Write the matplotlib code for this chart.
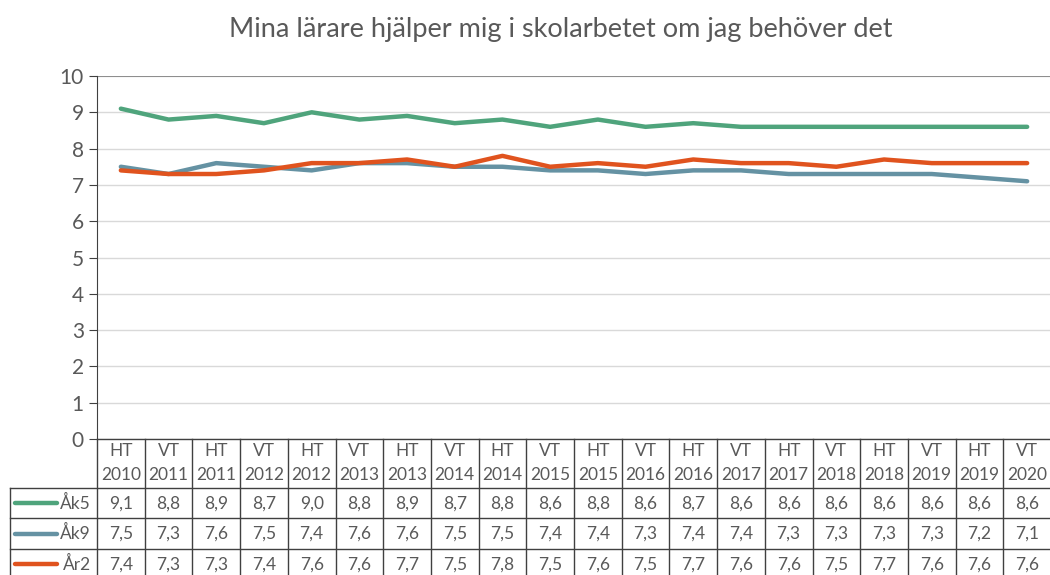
import numpy as np
import matplotlib.pyplot as plt

plt.rcParams['font.family'] = ['Lato', 'DejaVu Sans']

title = "Mina lärare hjälper mig i skolarbetet om jag behöver det"
terms = ["HT", "VT", "HT", "VT", "HT", "VT", "HT", "VT", "HT", "VT",
         "HT", "VT", "HT", "VT", "HT", "VT", "HT", "VT", "HT", "VT"]
years = ["2010", "2011", "2011", "2012", "2012", "2013", "2013", "2014", "2014", "2015",
         "2015", "2016", "2016", "2017", "2017", "2018", "2018", "2019", "2019", "2020"]
series_names = ["Åk5", "Åk9", "År2"]
ak5 = [9.1, 8.8, 8.9, 8.7, 9.0, 8.8, 8.9, 8.7, 8.8, 8.6, 8.8, 8.6, 8.7, 8.6, 8.6, 8.6, 8.6, 8.6, 8.6, 8.6]
ak9 = [7.5, 7.3, 7.6, 7.5, 7.4, 7.6, 7.6, 7.5, 7.5, 7.4, 7.4, 7.3, 7.4, 7.4, 7.3, 7.3, 7.3, 7.3, 7.2, 7.1]
ar2 = [7.4, 7.3, 7.3, 7.4, 7.6, 7.6, 7.7, 7.5, 7.8, 7.5, 7.6, 7.5, 7.7, 7.6, 7.6, 7.5, 7.7, 7.6, 7.6, 7.6]
colors = ["#4FA47C", "#6592A3", "#E0531E"]

txt_col = "#595959"
line_col = "#404040"

fig = plt.figure(figsize=(10.5, 5.75), dpi=100)
ax = fig.add_axes([97 / 1050, 1 - 439 / 575, 954 / 1050, 363 / 575])
n = len(years)
x = np.arange(n)
for vals, c in zip([ak5, ak9, ar2], colors):
    ax.plot(x, vals, color=c, lw=3.2, solid_capstyle='round', zorder=3)

ax.set_xlim(-0.5, n - 0.5)
ax.set_ylim(0, 10)
ax.set_yticks(range(0, 11))
ax.set_xticks([])
ax.grid(axis='y', color='#D9D9D9', lw=1)
ax.axhline(10, color='#7F7F7F', lw=1.2)
for s in ['top', 'right', 'bottom']:
    ax.spines[s].set_visible(False)
ax.spines['left'].set_color(line_col)
ax.tick_params(axis='y', colors=line_col, labelcolor=txt_col, labelsize=15, length=6, direction='out')
fig.text(561 / 1050, 1 - 29 / 575, title, ha='center', va='center', color=txt_col, fontsize=19.5)

# data table below the plot
col_w = 954 / n  # pixels per column
tr = ax.get_xaxis_transform()
y_rows = [0, -0.135, -0.219, -0.303, -0.388]
left_x = -0.5 - 87 / col_w
kw = dict(transform=tr, clip_on=False, color=line_col, lw=1)
for i in range(n + 1):
    ax.plot([i - 0.5, i - 0.5], [y_rows[0], y_rows[-1]], **kw)
ax.plot([left_x, left_x], [y_rows[1], y_rows[-1]], **kw)
ax.plot([-0.5, n - 0.5], [y_rows[0], y_rows[0]], **kw)
for yy in y_rows[1:4]:
    ax.plot([left_x, n - 0.5], [yy, yy], **kw)

fs = 12.5
for i in range(n):
    ax.text(i, -0.034, terms[i], transform=tr, ha='center', va='center', fontsize=fs, color=txt_col)
    ax.text(i, -0.1, years[i], transform=tr, ha='center', va='center', fontsize=fs, color=txt_col)

for r, (name, vals, c) in enumerate(zip(series_names, [ak5, ak9, ar2], colors)):
    yc = (y_rows[r + 1] + y_rows[r + 2]) / 2
    ax.plot([left_x + 5 / col_w, left_x + 47 / col_w], [yc, yc], transform=tr, clip_on=False,
            color=c, lw=3.2, solid_capstyle='round')
    ax.text(-0.5 - 6 / col_w, yc, name, transform=tr, ha='right', va='center', fontsize=fs, color=txt_col)
    for i, v in enumerate(vals):
        ax.text(i, yc, f"{v:.1f}".replace('.', ','), transform=tr, ha='center', va='center',
                fontsize=fs, color=txt_col)

fig.savefig("out.png", dpi=100)
